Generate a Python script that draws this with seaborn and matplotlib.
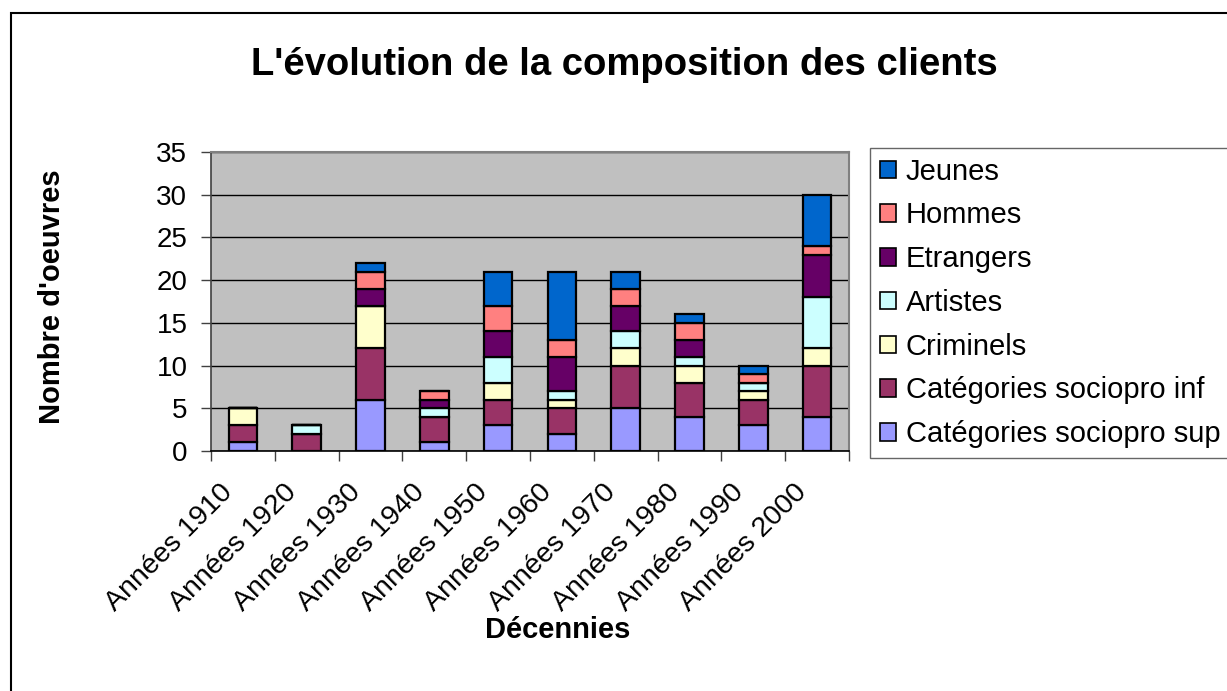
import matplotlib
matplotlib.use("Agg")
import matplotlib.pyplot as plt
from matplotlib.patches import Rectangle, Patch
from matplotlib.transforms import ScaledTranslation
import seaborn as sns
import numpy as np

decennies = ["Années 1910", "Années 1920", "Années 1930", "Années 1940", "Années 1950",
             "Années 1960", "Années 1970", "Années 1980", "Années 1990", "Années 2000"]

sociopro_sup = [1, 0, 6, 1, 3, 2, 5, 4, 3, 4]
sociopro_inf = [2, 2, 6, 3, 3, 3, 5, 4, 3, 6]
criminels    = [2, 0, 5, 0, 2, 1, 2, 2, 1, 2]
artistes     = [0, 1, 0, 1, 3, 1, 2, 1, 1, 6]
etrangers    = [0, 0, 2, 1, 3, 4, 3, 2, 0, 5]
hommes       = [0, 0, 2, 1, 3, 2, 2, 2, 1, 1]
jeunes       = [0, 0, 1, 0, 4, 8, 2, 1, 1, 6]

series = [
    ("Catégories sociopro sup", sociopro_sup, "#9999FF"),
    ("Catégories sociopro inf", sociopro_inf, "#993366"),
    ("Criminels", criminels, "#FFFFCC"),
    ("Artistes", artistes, "#CCFFFF"),
    ("Etrangers", etrangers, "#660066"),
    ("Hommes", hommes, "#FF8080"),
    ("Jeunes", jeunes, "#0066CC"),
]

sns.set_theme(style="white")
plt.rcParams["font.family"] = ["Liberation Sans", "DejaVu Sans"]
plt.rcParams.update({"text.color": "black", "axes.labelcolor": "black",
                     "xtick.color": "black", "ytick.color": "black"})

W, H = 1227, 691
fig = plt.figure(figsize=(W / 100, H / 100), dpi=100)
fig.patch.set_facecolor("white")

# outer chart frame
fig.patches.append(Rectangle((11 / W, -0.1), 1.2, 1 - 13 / H + 0.1, transform=fig.transFigure,
                             fill=False, edgecolor="black", linewidth=1.5))

ax = fig.add_axes([211 / W, 1 - 451 / H, (849 - 211) / W, (451 - 152) / H])
ax.set_facecolor("#C0C0C0")

bottom = np.zeros(len(decennies))
for name, vals, col in series:
    sns.barplot(x=decennies, y=vals, bottom=bottom.copy(), color=col, saturation=1,
                edgecolor="black", linewidth=1.6, width=0.45, order=decennies, ax=ax, zorder=3)
    bottom = bottom + np.array(vals)

ax.set_ylim(0, 35)
ax.set_xlim(-0.5, len(decennies) - 0.5)
ax.set_yticks(range(0, 36, 5))
ax.yaxis.grid(True, color="black", linewidth=1, zorder=1)
ax.set_axisbelow(True)

# category ticks sit on the boundaries between decades
ax.set_xticks(np.arange(-0.5, len(decennies), 1), minor=False)
ax.set_xticklabels([])
ax.set_xticks(np.arange(len(decennies)), minor=True)
ax.tick_params(axis="x", which="major", direction="out", length=7, width=1, color="#404040",
               bottom=True)
ax.tick_params(axis="x", which="minor", length=0, pad=27)
ax.tick_params(axis="y", direction="out", length=7, width=1, color="#404040", labelsize=20,
               left=True, pad=10)
ax.set_xticklabels(decennies, minor=True, rotation=45, ha="right", va="center",
                   rotation_mode="anchor", fontsize=20.5)
shift = ScaledTranslation(-14 / 100, 0, fig.dpi_scale_trans)
for lab in ax.get_xticklabels(minor=True):
    lab.set_transform(lab.get_transform() + shift)

for side in ["top", "right"]:
    ax.spines[side].set_color("#808080")
    ax.spines[side].set_linewidth(1.5)
ax.spines["left"].set_color("#404040")
ax.spines["bottom"].set_color("#000000")
ax.spines["left"].set_linewidth(1.2)
ax.spines["bottom"].set_linewidth(1.2)

ax.set_xlabel("")
ax.set_ylabel("")
fig.text(558 / W, 1 - 630 / H, "Décennies", ha="center", va="center",
         fontsize=21, fontweight="bold")
fig.text(52 / W, 1 - 297 / H, "Nombre d'oeuvres", ha="center", va="center", rotation=90,
         fontsize=21, fontweight="bold")

fig.text(624 / W, 1 - 65 / H, "L'évolution de la composition des clients",
         ha="center", va="center", fontsize=27.5, fontweight="bold")

handles = [Patch(facecolor=col, edgecolor="black", linewidth=1.2, label=name)
           for name, vals, col in reversed(series)]
leg = fig.legend(handles=handles, loc="upper left", bbox_to_anchor=(870 / W, 1 - 148 / H),
                 fontsize=21, frameon=True, fancybox=False, edgecolor="#404040",
                 handlelength=0.55, handleheight=0.55, handletextpad=0.35,
                 labelspacing=0.54, borderpad=0.33, borderaxespad=0)
leg.get_frame().set_linewidth(1)

fig.savefig("out.png", dpi=100, facecolor="white")
